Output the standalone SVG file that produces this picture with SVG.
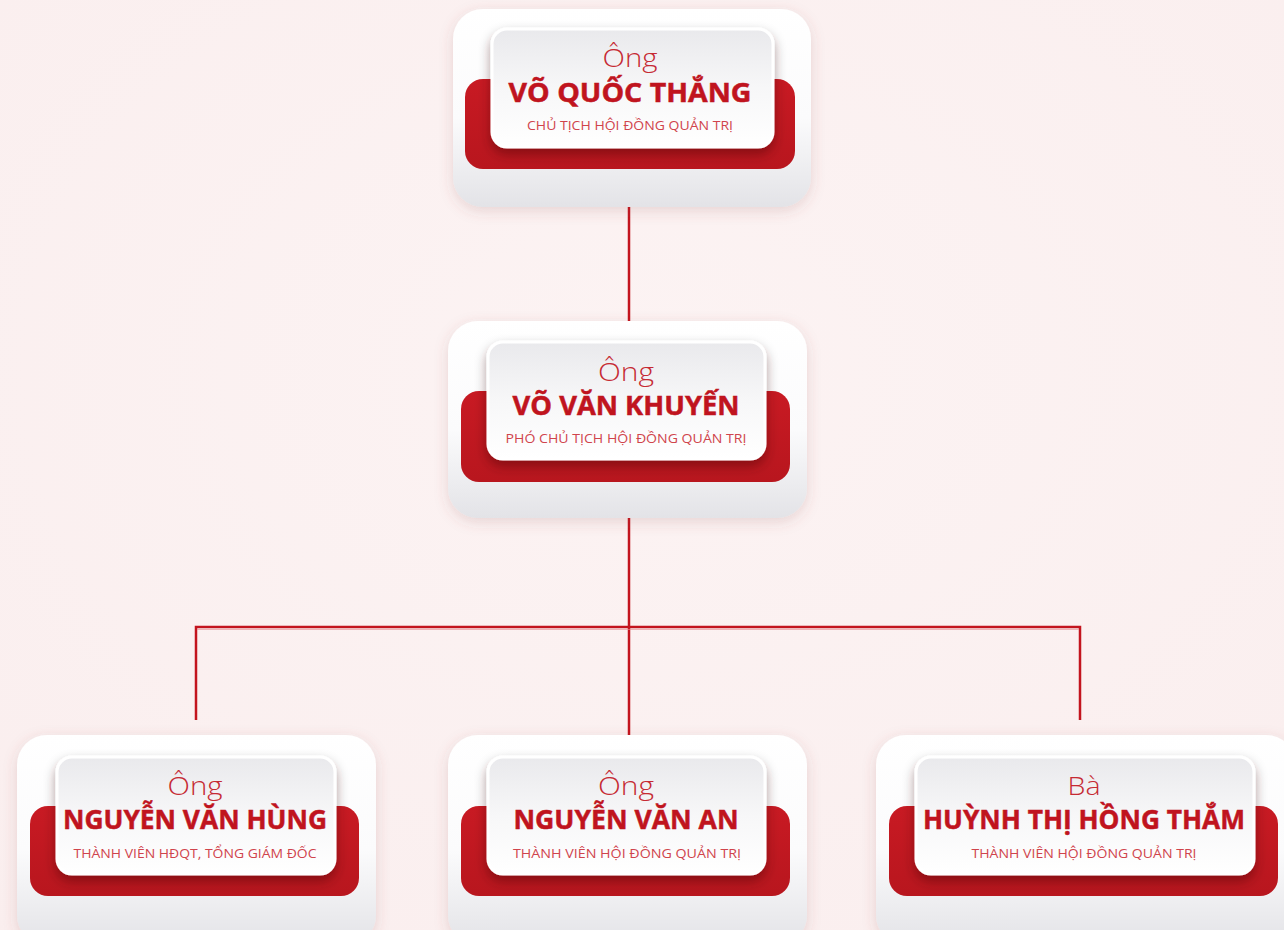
<svg xmlns="http://www.w3.org/2000/svg" width="1284" height="930" viewBox="0 0 1284 930">
<defs>
<linearGradient id="gOuter" x1="0" y1="0" x2="0" y2="1">
<stop offset="0" stop-color="#ffffff"/>
<stop offset="0.55" stop-color="#fbfbfc"/>
<stop offset="1" stop-color="#e3e3e7"/>
</linearGradient>
<linearGradient id="gInner" x1="0" y1="0" x2="0" y2="1">
<stop offset="0" stop-color="#e9e9ec"/>
<stop offset="0.5" stop-color="#f7f7f8"/>
<stop offset="1" stop-color="#ffffff"/>
</linearGradient>
<linearGradient id="gBand" x1="0" y1="0" x2="0" y2="1">
<stop offset="0" stop-color="#c81a23"/>
<stop offset="1" stop-color="#b8161e"/>
</linearGradient>
<radialGradient id="gBg" cx="0.5" cy="0.4" r="0.8">
<stop offset="0" stop-color="#fcf3f3"/>
<stop offset="1" stop-color="#faeeee"/>
</radialGradient>
<filter id="fOuter" x="-20%" y="-20%" width="140%" height="150%">
<feDropShadow dx="0" dy="4" stdDeviation="7" flood-color="#8a4a4a" flood-opacity="0.18"/>
</filter>
<filter id="fInner" x="-20%" y="-20%" width="140%" height="160%">
<feDropShadow dx="0" dy="6" stdDeviation="6" flood-color="#3a0000" flood-opacity="0.4"/>
</filter>
</defs>
<style>
.outer{fill:url(#gOuter);filter:url(#fOuter)}
.band{fill:url(#gBand)}
.inner{fill:url(#gInner);stroke:#ffffff;stroke-width:3;filter:url(#fInner)}
.hon{font-family:"Open Sans","Liberation Sans",sans-serif;font-weight:300;font-size:25px;fill:#c62a33;text-anchor:middle}
.name{font-family:"Open Sans","Liberation Sans",sans-serif;font-weight:700;font-size:27px;fill:#c0141e;stroke:#c0141e;stroke-width:0.5;text-anchor:middle}
.role{font-family:"Open Sans","Liberation Sans",sans-serif;font-weight:400;font-size:13px;fill:#d0444c;text-anchor:middle}
.conn{stroke:#c3141e;stroke-width:2.5;fill:none}
</style>
<rect x="0" y="0" width="1284" height="930" fill="url(#gBg)"/>

<g id="connectors">
<path class="conn" d="M629 207 V321"/>
<path class="conn" d="M629 518 V735"/>
<path class="conn" d="M196 720 V627 H1080 V720"/>
<path d="M197 629.5 H1079" stroke="#e88a8f" stroke-width="1" fill="none" opacity="0.6"/>
</g>

<g id="node-vo-quoc-thang">
<rect class="outer" x="453" y="9" width="358" height="198" rx="30"/>
<rect class="band" x="465" y="79" width="330" height="90" rx="18"/>
<rect class="inner" x="492" y="29" width="281" height="118" rx="15"/>
<text class="hon" x="630" y="67" textLength="55" lengthAdjust="spacingAndGlyphs">Ông</text>
<text class="name" x="630" y="102" textLength="243" lengthAdjust="spacingAndGlyphs">VÕ QUỐC THẮNG</text>
<text class="role" x="630" y="130" textLength="206" lengthAdjust="spacingAndGlyphs">CHỦ TỊCH HỘI ĐỒNG QUẢN TRỊ</text>
</g>

<g id="node-vo-van-khuyen">
<rect class="outer" x="448" y="321" width="359" height="197" rx="30"/>
<rect class="band" x="461" y="391" width="329" height="91" rx="18"/>
<rect class="inner" x="488" y="342" width="277" height="117" rx="15"/>
<text class="hon" x="626" y="381" textLength="56" lengthAdjust="spacingAndGlyphs">Ông</text>
<text class="name" x="626" y="415" textLength="227" lengthAdjust="spacingAndGlyphs">VÕ VĂN KHUYẾN</text>
<text class="role" x="626" y="443" textLength="241" lengthAdjust="spacingAndGlyphs">PHÓ CHỦ TỊCH HỘI ĐỒNG QUẢN TRỊ</text>
</g>

<g id="node-nguyen-van-hung">
<rect class="outer" x="17" y="735" width="359" height="210" rx="30"/>
<rect class="band" x="30" y="806" width="329" height="90" rx="18"/>
<rect class="inner" x="57" y="757" width="278" height="117" rx="15"/>
<text class="hon" x="195" y="795" textLength="55" lengthAdjust="spacingAndGlyphs">Ông</text>
<text class="name" x="195" y="829" textLength="264" lengthAdjust="spacingAndGlyphs">NGUYỄN VĂN HÙNG</text>
<text class="role" x="195" y="858" textLength="243" lengthAdjust="spacingAndGlyphs">THÀNH VIÊN HĐQT, TỔNG GIÁM ĐỐC</text>
</g>

<g id="node-nguyen-van-an">
<rect class="outer" x="448" y="735" width="359" height="210" rx="30"/>
<rect class="band" x="461" y="806" width="329" height="90" rx="18"/>
<rect class="inner" x="488" y="757" width="277" height="117" rx="15"/>
<text class="hon" x="626" y="795" textLength="56" lengthAdjust="spacingAndGlyphs">Ông</text>
<text class="name" x="626" y="829" textLength="225" lengthAdjust="spacingAndGlyphs">NGUYỄN VĂN AN</text>
<text class="role" x="627" y="858" textLength="228" lengthAdjust="spacingAndGlyphs">THÀNH VIÊN HỘI ĐỒNG QUẢN TRỊ</text>
</g>

<g id="node-huynh-thi-hong-tham">
<rect class="outer" x="876" y="735" width="420" height="210" rx="30"/>
<rect class="band" x="889" y="806" width="389" height="90" rx="18"/>
<rect class="inner" x="916" y="757" width="338" height="117" rx="15"/>
<text class="hon" x="1084" y="795" textLength="33" lengthAdjust="spacingAndGlyphs">Bà</text>
<text class="name" x="1084" y="829" textLength="322" lengthAdjust="spacingAndGlyphs">HUỲNH THỊ HỒNG THẮM</text>
<text class="role" x="1084" y="858" textLength="225" lengthAdjust="spacingAndGlyphs">THÀNH VIÊN HỘI ĐỒNG QUẢN TRỊ</text>
</g>
</svg>
